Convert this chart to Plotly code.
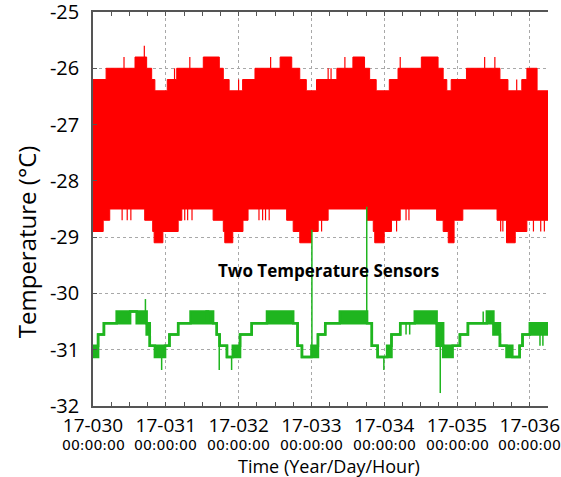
import plotly.graph_objects as go

# ---------------- data (time in days since 17-030 00:00:00) ----------------
day_ticks = [0, 1, 2, 3, 4, 5, 6]
day_labels = ["17-030", "17-031", "17-032", "17-033", "17-034", "17-035", "17-036"]
hour_labels = ["00:00:00"] * 7
temp_ticks = [-25, -26, -27, -28, -29, -30, -31, -32]
temp_labels = ["-25", "-26", "-27", "-28", "-29", "-30", "-31", "-32"]
T_END = 6.25

# Sensor 1 (red): upper / lower envelope of the fast oscillation (step starts)
red_top_t = [0.00, 0.18, 0.577, 0.737, 0.806, 0.85, 1.02, 1.15, 1.515, 1.735, 1.79, 1.87,
             2.055, 2.225, 2.57, 2.73, 2.84, 2.93, 3.07, 3.35, 3.57, 3.73, 3.80, 3.89,
             4.07, 4.19, 4.51, 4.74, 4.81, 4.86, 4.92, 5.13, 5.59, 5.70, 5.89, 5.96, 6.10]
red_top_v = [-26.2, -26.0, -25.8, -26.0, -26.2, -26.4, -26.2, -26.0, -25.8, -26.0, -26.2, -26.4,
             -26.2, -26.0, -25.8, -26.0, -26.2, -26.4, -26.2, -26.0, -25.8, -26.0, -26.2, -26.4,
             -26.2, -26.0, -25.8, -26.0, -26.2, -26.4, -26.2, -26.0, -26.2, -26.4, -26.2, -26.0, -26.4]
red_bot_t = [0.00, 0.14, 0.23, 0.71, 0.82, 0.84, 0.96, 1.17, 1.22, 1.65, 1.79, 1.81, 1.92,
             2.06, 2.13, 2.66, 2.75, 2.84, 3.00, 3.09, 3.23, 3.76, 3.85, 3.87, 4.00, 4.10,
             4.22, 4.72, 4.81, 4.88, 4.96, 5.08, 5.55, 5.68, 5.80, 5.96]
red_bot_v = [-28.9, -28.7, -28.5, -28.7, -28.9, -29.1, -28.9, -28.7, -28.5, -28.7, -28.9, -29.1, -28.9,
             -28.7, -28.5, -28.7, -28.9, -29.1, -28.9, -28.7, -28.5, -28.7, -28.9, -29.1, -28.9, -28.7,
             -28.5, -28.7, -28.9, -29.1, -28.7, -28.5, -28.7, -29.1, -28.9, -28.7]
red_spike_t = [0.426, 0.705, 1.12, 1.33, 2.00, 2.44, 3.23, 3.27, 3.46, 4.22, 5.38, 5.52, 5.82,
               0.40, 0.47, 0.52, 1.26, 1.30, 1.36, 2.28, 2.33, 2.37, 2.42, 3.09, 3.14, 4.08,
               4.17, 4.30, 4.34, 5.60, 5.63, 6.05, 6.15, 6.20]
red_spike_from = [-26.0, -25.8, -26.2, -26.0, -26.4, -26.0, -26.2, -26.2, -26.0, -26.0, -26.0, -26.0, -26.4,
                  -28.5, -28.5, -28.5, -28.5, -28.5, -28.5, -28.5, -28.5, -28.5, -28.5, -28.7, -28.7, -28.7,
                  -28.7, -28.5, -28.5, -28.7, -28.7, -28.7, -28.7, -28.7]
red_spike_to = [-25.8, -25.6, -26.0, -25.8, -26.2, -25.8, -26.0, -26.0, -25.8, -25.8, -25.8, -25.8, -26.2,
                -28.7, -28.7, -28.7, -28.7, -28.7, -28.7, -28.7, -28.7, -28.7, -28.7, -28.9, -28.9, -28.9,
                -28.9, -28.7, -28.7, -28.9, -28.9, -28.9, -28.9, -28.9]

# Sensor 2 (green): step trace, with hi/lo where it toggles quickly between two levels
green_t = [0.00, 0.07, 0.15, 0.325, 0.51, 0.60, 0.737, 0.78, 0.85, 0.99, 1.05, 1.17, 1.34, 1.56,
           1.58, 1.65, 1.70, 1.74, 1.84, 1.92, 2.02, 2.18, 2.39, 2.75, 2.81, 2.87, 3.00, 3.09,
           3.19, 3.39, 3.765, 3.83, 3.91, 4.04, 4.10, 4.22, 4.42, 4.72, 4.81, 4.94, 5.04, 5.15,
           5.41, 5.50, 5.59, 5.68, 5.76, 5.86, 5.90, 6.00]
green_hi = [-30.93, -30.73, -30.53, -30.32, -30.32, -30.32, -30.53, -30.93, -30.93, -30.93, -30.73, -30.53,
            -30.32, -30.32, -30.32, -30.53, -30.73, -30.93, -31.13, -30.93, -30.73, -30.53, -30.32, -30.53,
            -30.93, -31.13, -30.93, -30.73, -30.53, -30.32, -30.53, -30.93, -31.13, -30.93, -30.73, -30.53,
            -30.32, -30.53, -30.93, -30.93, -30.73, -30.53, -30.32, -30.53, -30.93, -30.93, -31.13, -30.93,
            -30.73, -30.53]
green_lo = [-31.13, -30.73, -30.53, -30.53, -30.32, -30.53, -30.73, -30.93, -31.13, -30.93, -30.73, -30.53,
            -30.53, -30.32, -30.53, -30.53, -30.73, -30.93, -31.13, -31.13, -30.73, -30.53, -30.53, -30.53,
            -30.93, -31.13, -31.13, -30.73, -30.53, -30.53, -30.53, -30.93, -31.13, -31.13, -30.73, -30.53,
            -30.53, -30.93, -31.13, -30.93, -30.73, -30.53, -30.53, -30.73, -30.93, -31.13, -31.13, -30.93,
            -30.73, -30.73]
green_spike_t = [0.72, 0.943, 1.734, 1.904, 3.007, 3.76, 3.995, 4.77, 4.30, 4.35, 5.36, 5.45, 6.14, 6.18]
green_spike_from = [-30.32, -31.13, -30.73, -31.13, -31.13, -30.32, -31.13, -30.73, -30.53, -30.53,
                    -30.53, -30.53, -30.73, -30.73]
green_spike_to = [-30.10, -31.36, -31.36, -31.36, -28.87, -28.46, -31.36, -31.77, -30.73, -30.73,
                  -30.32, -30.32, -30.93, -30.93]

RED = "#FF0000"
GREEN = "#1FB51F"


def step(ts, vs):
    return list(ts) + [T_END], list(vs) + [vs[-1]]


def spikes(ts, a, b):
    xs, ys = [], []
    for t, y0, y1 in zip(ts, a, b):
        xs += [t, t, None]
        ys += [y0, y1, None]
    return xs, ys


fig = go.Figure()

bx, by = step(red_bot_t, red_bot_v)
tx, ty = step(red_top_t, red_top_v)
fig.add_trace(go.Scatter(x=bx, y=by, mode="lines", line=dict(color=RED, width=1, shape="hv"),
                         showlegend=False, hoverinfo="skip"))
fig.add_trace(go.Scatter(x=tx, y=ty, mode="lines", line=dict(color=RED, width=1, shape="hv"),
                         fill="tonexty", fillcolor=RED, showlegend=False, hoverinfo="skip"))
sx, sy = spikes(red_spike_t, red_spike_from, red_spike_to)
fig.add_trace(go.Scatter(x=sx, y=sy, mode="lines", line=dict(color=RED, width=1.2),
                         showlegend=False, hoverinfo="skip"))

lx, ly = step(green_t, green_lo)
hx, hy = step(green_t, green_hi)
fig.add_trace(go.Scatter(x=lx, y=ly, mode="lines", line=dict(color=GREEN, width=2.5, shape="hv"),
                         showlegend=False, hoverinfo="skip"))
fig.add_trace(go.Scatter(x=hx, y=hy, mode="lines", line=dict(color=GREEN, width=2.5, shape="hv"),
                         fill="tonexty", fillcolor=GREEN, showlegend=False, hoverinfo="skip"))
gx, gy = spikes(green_spike_t, green_spike_from, green_spike_to)
fig.add_trace(go.Scatter(x=gx, y=gy, mode="lines", line=dict(color=GREEN, width=1.5),
                         showlegend=False, hoverinfo="skip"))

AXC = "#555555"
GRID = "#A8A8A8"

fig.update_xaxes(range=[0, T_END], tickvals=day_ticks, ticktext=day_labels, automargin=False,
                 ticklabeloverflow="allow",
                 tickfont=dict(family="Open Sans", size=19, color="black"),
                 showline=True, linecolor=AXC, linewidth=1.5, mirror="allticks",
                 ticks="inside", ticklen=4, tickcolor=AXC,
                 minor=dict(dtick=0.25, ticks="inside", ticklen=4, tickcolor=AXC, showgrid=False),
                 showgrid=True, gridcolor=GRID, griddash="dot", gridwidth=1,
                 zeroline=False, ticklabelstandoff=1)
fig.update_yaxes(range=[-32, -25], tickvals=temp_ticks, ticktext=temp_labels, automargin=False,
                 ticklabeloverflow="allow",
                 tickfont=dict(family="Open Sans", size=20, color="black"),
                 showline=True, linecolor=AXC, linewidth=1.5, mirror=False,
                 ticks="inside", ticklen=4, tickcolor=AXC,
                 showgrid=True, gridcolor=GRID, griddash="dot", gridwidth=1,
                 zeroline=False, ticklabelstandoff=8)

annotations = []
for t, lab in zip(day_ticks, hour_labels):
    annotations.append(dict(x=t, y=-0.099, xref="x", yref="paper", text=lab, showarrow=False,
                            xanchor="center", yanchor="middle",
                            font=dict(family="DejaVu Sans", size=14, color="black")))
annotations.append(dict(x=0.519, y=-0.152, xref="paper", yref="paper", text="Time (Year/Day/Hour)",
                        showarrow=False, xanchor="center", yanchor="middle",
                        font=dict(family="Open Sans", size=18, color="black")))
annotations.append(dict(x=-0.147, y=0.416, xref="paper", yref="paper", text="Temperature (°C)",
                        textangle=-90, showarrow=False, xanchor="center", yanchor="middle",
                        font=dict(family="Open Sans", size=24, color="black")))
annotations.append(dict(x=3.23, y=-29.6, xref="x", yref="y", text="<b>Two Temperature Sensors</b>",
                        showarrow=False, xanchor="center", yanchor="middle",
                        font=dict(family="Open Sans", size=17, color="black")))

fig.update_layout(width=561, height=477, margin=dict(l=93, r=13, t=12, b=71),
                  paper_bgcolor="white", plot_bgcolor="white", showlegend=False,
                  annotations=annotations)

fig.write_html("out.html")
